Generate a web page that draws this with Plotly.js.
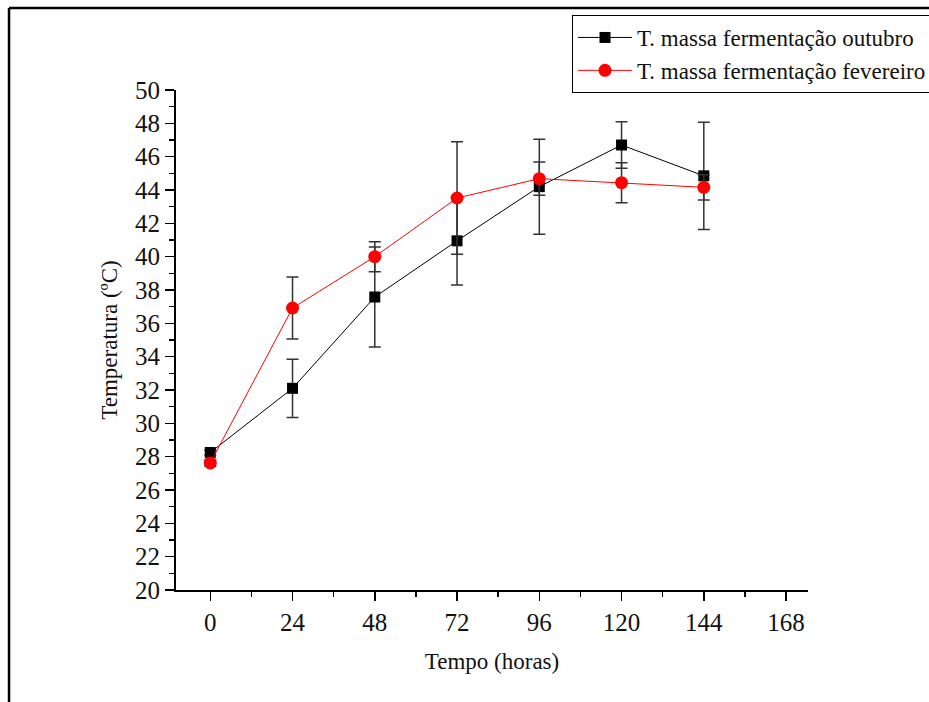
<!DOCTYPE html>
<html>
<head>
<meta charset="utf-8">
<script src="https://cdn.plot.ly/plotly-3.0.1.min.js"></script>
<style>html,body{margin:0;padding:0;background:#fff;}#chart{width:929px;height:702px;}</style>
</head>
<body>
<div id="chart"></div>
<script>
// Data
const hours = [0, 24, 48, 72, 96, 120, 144];
const outubroTemp = [28.25, 32.1, 37.58, 40.95, 44.2, 46.7, 44.85];
const outubroErr  = [0.15, 1.75, 3.0, 2.65, 2.85, 1.4, 3.22];
const fevereiroTemp = [27.62, 36.92, 40.0, 43.52, 44.68, 44.44, 44.16];
const fevereiroErr  = [0.2, 1.86, 0.9, 3.38, 1.0, 1.2, 0.76];
const xTicks = [0, 24, 48, 72, 96, 120, 144, 168];
const yTicks = [20, 22, 24, 26, 28, 30, 32, 34, 36, 38, 40, 42, 44, 46, 48, 50];
const seriesNames = ['T. massa fermentação outubro', 'T. massa fermentação fevereiro'];

const font = 'Liberation Serif, Times New Roman, serif';

const traces = [
  {
    x: hours, y: outubroTemp, name: seriesNames[0], type: 'scatter', mode: 'lines+markers',
    line: {color: '#000000', width: 1},
    marker: {symbol: 'square', size: 11, color: '#000000'},
    error_y: {type: 'data', array: outubroErr, visible: true, color: '#333333', thickness: 1.5, width: 6}
  },
  {
    x: hours, y: fevereiroTemp, name: seriesNames[1], type: 'scatter', mode: 'lines+markers',
    line: {color: '#ff0000', width: 1},
    marker: {symbol: 'circle', size: 13, color: '#ff0000'},
    error_y: {type: 'data', array: fevereiroErr, visible: true, color: '#333333', thickness: 1.5, width: 6}
  }
];

const layout = {
  width: 929, height: 702,
  margin: {l: 176, r: 121, t: 90, b: 112, autoexpand: false},
  paper_bgcolor: '#ffffff', plot_bgcolor: '#ffffff',
  font: {family: font, color: '#111111'},
  showlegend: true,
  legend: {
    x: 0.6266, y: 1.15, xanchor: 'left', yanchor: 'top',
    bgcolor: '#ffffff', bordercolor: '#000000', borderwidth: 1,
    font: {family: font, size: 23, color: '#111111'},
    tracegroupgap: 0, itemwidth: 54
  },
  xaxis: {
    range: [-10, 174.4],
    tickvals: xTicks, ticktext: xTicks.map(String),
    ticks: 'outside', ticklen: 9, tickwidth: 1.5, tickcolor: '#000',
    minor: {dtick: 12, ticks: 'outside', ticklen: 5, tickwidth: 1.5, tickcolor: '#000'},
    showline: true, linecolor: '#000', linewidth: 2,
    showgrid: false, zeroline: false,
    tickfont: {family: font, size: 25, color: '#111'},
    title: {text: 'Tempo (horas)', font: {family: font, size: 23, color: '#111'}, standoff: 18}
  },
  yaxis: {
    range: [20, 50],
    tickvals: yTicks, ticktext: yTicks.map(String),
    ticks: 'outside', ticklen: 9, tickwidth: 1.5, tickcolor: '#000',
    minor: {dtick: 1, ticks: 'outside', ticklen: 5, tickwidth: 1.5, tickcolor: '#000'},
    showline: true, linecolor: '#000', linewidth: 2,
    showgrid: false, zeroline: false,
    tickfont: {family: font, size: 25, color: '#111'},
    title: {text: 'Temperatura (ºC)', font: {family: font, size: 23, color: '#111'}, standoff: 11}
  },
  shapes: [
    {type: 'line', xref: 'paper', yref: 'paper', x0: -0.2642, x1: -0.2642, y0: 1.164, y1: -0.26, line: {color: '#000', width: 2.5}},
    {type: 'line', xref: 'paper', yref: 'paper', x0: -0.2642, x1: 1.22, y0: 1.164, y1: 1.164, line: {color: '#000', width: 2.5}},
    {type: 'line', xref: 'paper', yref: 'paper', x0: -0.015, x1: 0, y0: 0, y1: 0, line: {color: '#000', width: 2}}
  ]
};

Plotly.newPlot('chart', traces, layout, {displayModeBar: false, staticPlot: true});
</script>
</body>
</html>
